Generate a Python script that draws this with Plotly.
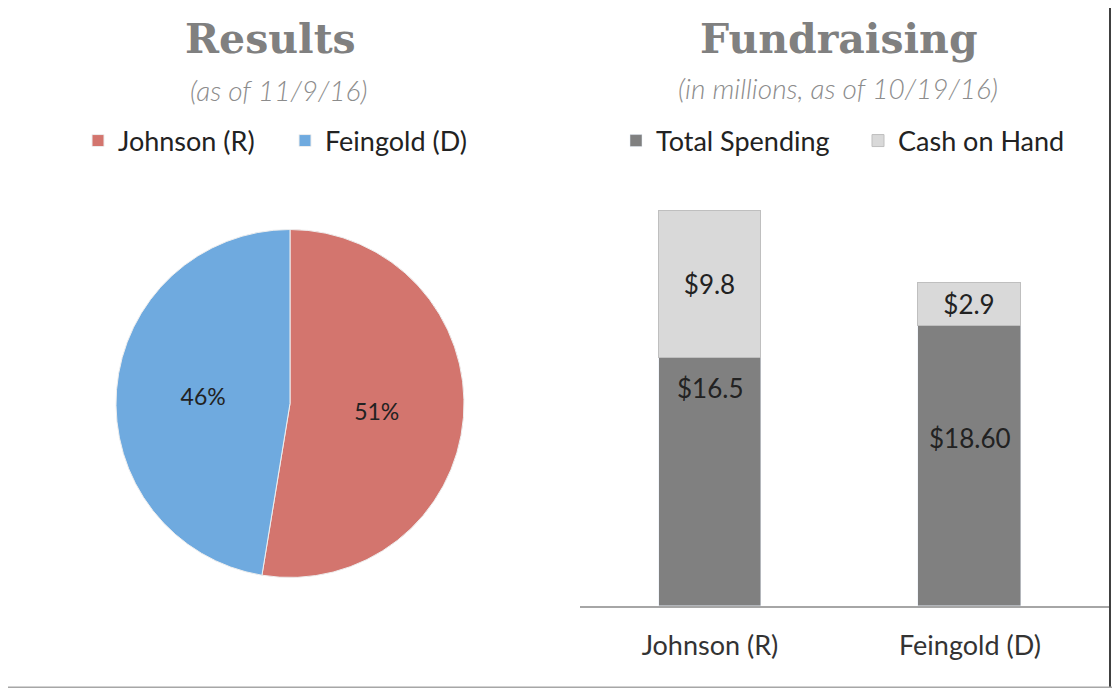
import plotly.graph_objects as go

# results pie
candidates = ["Johnson (R)", "Feingold (D)"]
vote_share = [51, 46]
pie_colors = ["#D3756E", "#6FAADF"]

# fundraising bars (millions)
spending = [16.5, 18.6]
spending_text = ["$16.5", "$18.60"]
cash = [9.8, 2.9]
cash_text = ["$9.8", "$2.9"]
spend_label_y = [14.5, 11.2]

SANS = "Lato, Calibri, sans-serif"
SERIF = "DejaVu Serif, Georgia, serif"

# page has an 8px body margin, so map screen pixels to paper coords
W, H, OFF = 1112, 680, 8


def px(x):
    return (x - OFF) / W


def py(y):
    return 1 - (y - OFF) / H


fig = go.Figure()

fig.add_trace(go.Pie(
    labels=candidates, values=vote_share, sort=False, direction="clockwise",
    rotation=0, marker=dict(colors=pie_colors, line=dict(color="#eeeeee", width=1)),
    texttemplate="%{value}%", textposition="inside", insidetextorientation="horizontal",
    textfont=dict(family=SANS, size=23, color="#222222"),
    domain=dict(x=[px(116), px(464)], y=[py(578), py(229)]),
    legend="legend", hoverinfo="label+value",
))

fig.add_trace(go.Bar(
    x=candidates, y=spending, name="Total Spending", marker_color="#808080",
    width=0.396, legend="legend2", textposition="none",
))
fig.add_trace(go.Bar(
    x=candidates, y=cash, name="Cash on Hand", marker_color="#D9D9D9",
    marker_line=dict(color="#BFBFBF", width=1), width=0.396, legend="legend2",
    text=cash_text, textposition="inside", insidetextanchor="middle",
    textfont=dict(family=SANS, size=26, color="#222222"),
))

annotations = []
for cand, txt, yy in zip(candidates, spending_text, spend_label_y):
    annotations.append(dict(x=cand, y=yy, xref="x", yref="y", text=txt, showarrow=False,
                            font=dict(family=SANS, size=26, color="#222222")))

titles = [
    (270, 39, "<b>Results</b>", SERIF, 41, "#808080", 700),
    (839, 39, "<b>Fundraising</b>", SERIF, 41, "#808080", 700),
    (278, 90, "<i>(as of 11/9/16)</i>", SANS, 28, "#8C8C8C", 300),
    (838, 88, "<i>(in millions, as of 10/19/16)</i>", SANS, 28, "#8C8C8C", 300),
]
for x, y, t, fam, sz, col, wt in titles:
    annotations.append(dict(x=px(x), y=py(y), xref="paper", yref="paper", text=t,
                            showarrow=False, font=dict(family=fam, size=sz, color=col, weight=wt),
                            xanchor="center", yanchor="middle"))

fig.update_layout(
    width=W, height=H, margin=dict(l=0, r=0, t=0, b=0),
    paper_bgcolor="white", plot_bgcolor="white",
    barmode="stack", bargap=0,
    annotations=annotations,
    xaxis=dict(domain=[px(580), px(1109)], range=[-0.5, 1.535], showgrid=False,
               showline=True, linecolor="#A6A6A6", linewidth=1.5, ticks="",
               tickfont=dict(family=SANS, size=27, color="#333333"), ticklabelstandoff=15),
    yaxis=dict(domain=[py(606), py(200)], range=[0, 27], visible=False),
    legend=dict(orientation="h", x=px(78), y=py(141), xanchor="left",
                yanchor="middle", entrywidth=162,
                font=dict(family=SANS, size=27, color="#222222"),
                itemclick=False, bgcolor="rgba(0,0,0,0)"),
    legend2=dict(orientation="h", x=px(616), y=py(141), xanchor="left",
                 yanchor="middle", traceorder="normal", entrywidth=197,
                 font=dict(family=SANS, size=27, color="#222222"),
                 itemclick=False, bgcolor="rgba(0,0,0,0)"),
    shapes=[
        dict(type="line", xref="paper", yref="paper", x0=px(1110), x1=px(1110), y0=0, y1=1,
             line=dict(color="#404040", width=2)),
        dict(type="line", xref="paper", yref="paper", x0=0, x1=1, y0=0, y1=0,
             line=dict(color="#A6A6A6", width=3)),
    ],
)

fig.write_html("out.html")
